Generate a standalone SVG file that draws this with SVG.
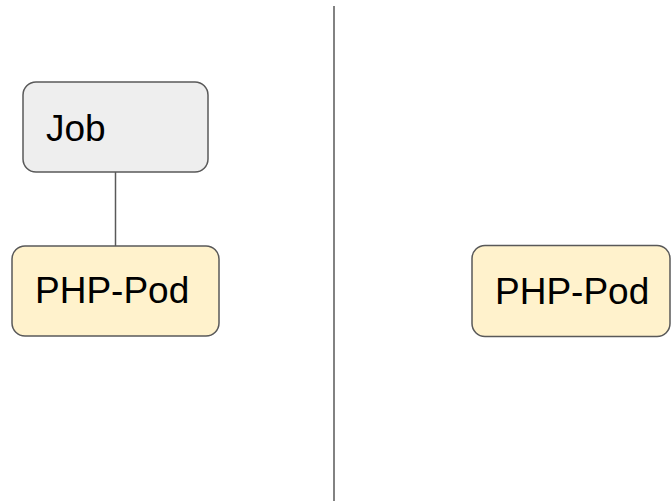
<svg xmlns="http://www.w3.org/2000/svg" width="671" height="501" viewBox="0 0 671 501">
<style>
.box{stroke:#595959;stroke-width:1.5}
.job{fill:#eeeeee}
.pod{fill:#fff2cc}
.lbl{font-family:"Liberation Sans",Arial,sans-serif;font-size:37px;fill:#000}
.conn{stroke:#595959;stroke-width:1.5;fill:none}
</style>
<rect width="671" height="501" fill="#ffffff"/>
<g id="connectors">
<line class="conn" x1="115.5" y1="172" x2="115.5" y2="246"/>
<line class="conn" x1="334" y1="6" x2="334" y2="501"/>
</g>
<g id="job">
<rect class="box job" x="23" y="82" width="185" height="90" rx="13"/>
<text class="lbl" x="46" y="141">Job</text>
</g>
<g id="php-pod-left">
<rect class="box pod" x="12" y="246" width="207" height="90" rx="13"/>
<text class="lbl" x="35" y="303">PHP-Pod</text>
</g>
<g id="php-pod-right">
<rect class="box pod" x="472" y="245.5" width="198" height="91" rx="13"/>
<text class="lbl" x="495" y="304">PHP-Pod</text>
</g>
</svg>
